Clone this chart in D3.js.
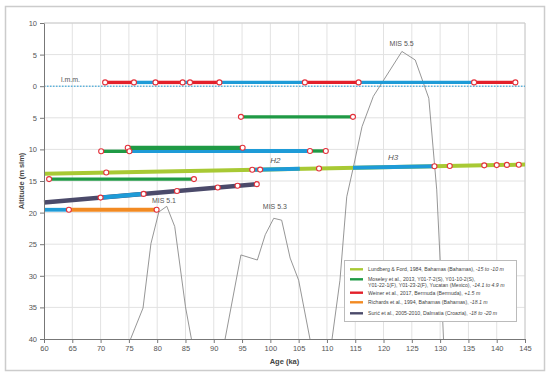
<!DOCTYPE html>
<html>
<head>
<meta charset="utf-8">
<script src="https://cdn.jsdelivr.net/npm/d3@7"></script>
<style>
  body { margin: 0; background: #fff; }
  svg { font-family: "Liberation Sans", Arial, sans-serif; }
  .axis text { fill: #555; font-size: 7.5px; }
  .axis path, .axis line { stroke: #777; }
</style>
</head>
<body>
<div id="chart"></div>
<script>
// ages (ka) and altitudes (m)
var xTicks = d3.range(60, 146, 5);
var yTicks = d3.range(10, -41, -5);

// Weiner et al. (red), flat at ~+0.6
var weinerAlt = 0.6;
var weinerSegs = [[70.8, 75.9], [79.7, 84.5], [85.8, 91.0], [106.1, 115.6], [136.0, 143.3]];
var weinerLinks = [[75.9, 79.7], [84.5, 85.8], [91.0, 106.1], [115.6, 136.0]];
var weinerPts = [70.8, 75.9, 79.7, 84.5, 85.8, 91.0, 106.1, 115.6, 136.0, 143.3];

// Moseley et al. (green): [age0, age1, alt]
var moseleySegs = [[94.8, 114.6, -4.85], [70.1, 75.1, -10.3], [107.0, 109.8, -10.25], [60.9, 86.5, -14.7]];
var moseleyThick = [[74.8, 95.1, -9.75]];
var moseleyLinks = [[75.1, 107.0, -10.25]];
var moseleyPts = [[94.8, -4.85], [114.6, -4.85], [70.1, -10.3], [74.8, -9.75], [75.1, -10.3],
                  [95.1, -9.75], [107.0, -10.25], [109.8, -10.25], [60.9, -14.7], [86.5, -14.7]];

// Lundberg & Ford (yellow-green), sloped line
var lundbergEnds = [[60, -13.85], [145, -12.4]];
var lundbergLinks = [[96.8, 105.2], [114.6, 129.0]];
var lundbergPts = [71.0, 96.8, 98.2, 108.6, 129.0, 131.7, 137.8, 140.0, 141.8, 143.9];

// Suric et al. (slate), sloped line
var suricEnds = [[60, -18.4], [97.6, -15.5]];
var suricLinks = [[70.0, 77.6]];
var suricPts = [70.0, 77.6, 83.5, 90.7, 94.2, 97.6];

// Richards et al. (orange)
var richardsAlt = -19.55;
var richardsSegs = [[64.4, 79.9]];
var richardsLinks = [[60, 64.4]];
var richardsPts = [64.4, 79.9];

// sea level curve (MIS), null = leaves the frame
var misCurve = [
  [75.3, -40], [77.5, -35.1], [78.9, -24.9], [80.3, -19.9], [81.7, -19.0], [83.1, -22.2], [85.0, -34.9], [86.05, -40], null,
  [92.0, -40], [94.8, -26.7], [97.7, -27.5], [99.1, -23.5], [100.6, -20.9], [102.0, -21.2], [103.5, -27.2], [105.0, -30.7], [107.0, -40], null,
  [110.9, -40], [112.3, -30.7], [113.5, -17.5], [114.7, -12.7], [116.2, -6.4], [118.2, -1.6], [123.25, 5.5],
  [125.6, 4.15], [128.0, -1.9], [129.4, -16.4], [130.0, -27.5], [130.6, -40]
];
var misLabels = [["MIS 5.1", 81.2, -18.5], ["MIS 5.3", 100.8, -19.4], ["MIS 5.5", 123.2, 6.3]];
var hLabels = [["H2", 100.9, -12.2], ["H3", 121.7, -11.6]];

var legendItems = [
  {color: "#a8c934", lines: [["Lundberg & Ford, 1984, Bahamas (Bahamas), ", "-15 to -10 m"]]},
  {color: "#1f9a45", lines: [["Moseley et al., 2013, Y01-7-2(S), Y01-10-2(S),", ""],
                             ["Y01-22-1(F), Y01-23-2(F), Yucatan (Mexico), ", "-14.1 to 4.9 m"]]},
  {color: "#e3202a", lines: [["Weiner et al., 2017, Bermuda (Bermuda), ", "+1.5 m"]]},
  {color: "#f28a22", lines: [["Richards et al., 1994, Bahamas (Bahamas), ", "-18.1 m"]]},
  {color: "#4b4a6a", lines: [["Surić et al., 2005-2010, Dalmatia (Croazia), ", "-18 to -20 m"]]}
];

var width = 550, height = 376;
var blue = "#1e9bd7";

var svg = d3.select("#chart").append("svg")
    .attr("width", width)
    .attr("height", height);

// outer frame
svg.append("rect")
    .attr("x", 5.5).attr("y", 6.5)
    .attr("width", 539).attr("height", 364)
    .attr("fill", "none").attr("stroke", "#ccc").attr("stroke-width", 1.5);

var x = d3.scaleLinear().domain([60, 145]).range([44, 525]);
var y = d3.scaleLinear().domain([10, -40]).range([23, 339]);

// grid
svg.append("g").selectAll("line")
    .data(xTicks.slice(1))
    .enter().append("line")
    .attr("x1", d => x(d)).attr("x2", d => x(d))
    .attr("y1", y(10)).attr("y2", y(-40))
    .attr("stroke", "#e2e2e2");
svg.append("g").selectAll("line")
    .data(yTicks.slice(0, -1))
    .enter().append("line")
    .attr("x1", x(60)).attr("x2", x(145))
    .attr("y1", d => y(d)).attr("y2", d => y(d))
    .attr("stroke", "#e2e2e2");

// top / right border of the plot
svg.append("path")
    .attr("d", "M" + x(60) + "," + y(10) + "H" + x(145) + "V" + y(-40))
    .attr("fill", "none").attr("stroke", "#ccc");

// mean sea level, dotted
svg.append("line")
    .attr("x1", x(60)).attr("x2", x(145))
    .attr("y1", y(0)).attr("y2", y(0))
    .attr("stroke", blue).attr("stroke-width", 1)
    .attr("stroke-dasharray", "1.5,1.5");
svg.append("text")
    .attr("x", x(63)).attr("y", y(0) - 4)
    .attr("fill", "#555").attr("font-size", 7)
    .text("l.m.m.");

// clip for the MIS curve
svg.append("clipPath").attr("id", "plotclip")
  .append("rect")
    .attr("x", x(60)).attr("y", y(10))
    .attr("width", x(145) - x(60)).attr("height", y(-40) - y(10));

var curve = d3.line()
    .defined(d => d != null)
    .x(d => x(d[0]))
    .y(d => y(d[1]));

svg.append("path")
    .datum(misCurve)
    .attr("clip-path", "url(#plotclip)")
    .attr("d", curve)
    .attr("fill", "none")
    .attr("stroke", "#8a8a8a")
    .attr("stroke-width", 0.9);

svg.selectAll("text.mis")
    .data(misLabels)
    .enter().append("text")
    .attr("class", "mis")
    .attr("x", d => x(d[1])).attr("y", d => y(d[2]))
    .attr("text-anchor", "middle")
    .attr("fill", "#555").attr("font-size", 7)
    .text(d => d[0]);

// helpers
function alongLine(ends) {
    var f = d3.scaleLinear().domain([ends[0][0], ends[1][0]]).range([ends[0][1], ends[1][1]]);
    return f;
}

function flatSegs(g, segs, alt, color, w) {
    g.selectAll(null)
        .data(segs)
        .enter().append("line")
        .attr("x1", d => x(d[0])).attr("x2", d => x(d[1]))
        .attr("y1", d => y(d.length > 2 ? d[2] : alt))
        .attr("y2", d => y(d.length > 2 ? d[2] : alt))
        .attr("stroke", color).attr("stroke-width", w);
}

function slopeSegs(g, segs, f, color, w) {
    g.selectAll(null)
        .data(segs)
        .enter().append("line")
        .attr("x1", d => x(d[0])).attr("x2", d => x(d[1]))
        .attr("y1", d => y(f(d[0]))).attr("y2", d => y(f(d[1])))
        .attr("stroke", color).attr("stroke-width", w);
}

var lines = svg.append("g");

// Weiner
flatSegs(lines, weinerLinks, weinerAlt, blue, 3.4);
flatSegs(lines, weinerSegs, weinerAlt, "#e3202a", 3.4);

// Moseley
flatSegs(lines, moseleyLinks, null, blue, 3.8);
flatSegs(lines, moseleySegs, null, "#1f9a45", 3.4);
flatSegs(lines, moseleyThick, null, "#1f9a45", 4.2);

// Lundberg
var fl = alongLine(lundbergEnds);
slopeSegs(lines, [[60, 145]], fl, "#a8c934", 4);
slopeSegs(lines, lundbergLinks, fl, blue, 4);

// Suric
var fs = alongLine(suricEnds);
slopeSegs(lines, [[60, 97.6]], fs, "#4b4a6a", 4.4);
slopeSegs(lines, suricLinks, fs, blue, 4.4);

// Richards
flatSegs(lines, richardsLinks, richardsAlt, blue, 3.8);
flatSegs(lines, richardsSegs, richardsAlt, "#f28a22", 3.8);

// data points
var pts = []
    .concat(weinerPts.map(a => [a, weinerAlt]))
    .concat(moseleyPts)
    .concat(lundbergPts.map(a => [a, fl(a)]))
    .concat(suricPts.map(a => [a, fs(a)]))
    .concat(richardsPts.map(a => [a, richardsAlt]));

svg.append("g").selectAll("circle")
    .data(pts)
    .enter().append("circle")
    .attr("cx", d => x(d[0])).attr("cy", d => y(d[1]))
    .attr("r", 2.5)
    .attr("fill", "#fff")
    .attr("stroke", "#e3303a")
    .attr("stroke-width", 1.1);

svg.selectAll("text.hlab")
    .data(hLabels)
    .enter().append("text")
    .attr("class", "hlab")
    .attr("x", d => x(d[1])).attr("y", d => y(d[2]))
    .attr("text-anchor", "middle")
    .attr("fill", "#555").attr("font-size", 8).attr("font-style", "italic")
    .text(d => d[0]);

// axes
svg.append("g")
    .attr("class", "axis")
    .attr("transform", "translate(0," + y(-40) + ")")
    .call(d3.axisBottom(x).tickValues(xTicks).tickSize(4).tickPadding(3).tickSizeOuter(0));

svg.append("g")
    .attr("class", "axis")
    .attr("transform", "translate(" + x(60) + ",0)")
    .call(d3.axisLeft(y).tickValues(yTicks).tickSize(4).tickPadding(3).tickSizeOuter(0)
        .tickFormat(d => Math.abs(d)));

svg.append("text")
    .attr("x", (x(60) + x(145)) / 2).attr("y", 364)
    .attr("text-anchor", "middle")
    .attr("font-size", 7.5).attr("font-weight", "bold").attr("fill", "#444")
    .text("Age (ka)");

svg.append("text")
    .attr("transform", "translate(24," + (y(10) + y(-40)) / 2 + ") rotate(-90)")
    .attr("text-anchor", "middle")
    .attr("font-size", 7.5).attr("font-weight", "bold").attr("fill", "#444")
    .text("Altitude (m slm)");

// legend
var lg = svg.append("g");
lg.append("rect")
    .attr("x", 344.5).attr("y", 260.5)
    .attr("width", 172).attr("height", 61)
    .attr("fill", "#fff").attr("stroke", "#bbb");

var rowY = [269.3, 279.3, 292.7, 302.3, 313.3];
legendItems.forEach(function(item, i) {
    lg.append("line")
        .attr("x1", 350).attr("x2", 363)
        .attr("y1", rowY[i]).attr("y2", rowY[i])
        .attr("stroke", item.color).attr("stroke-width", 2.4);
    item.lines.forEach(function(ln, j) {
        var t = lg.append("text")
            .attr("x", 368).attr("y", rowY[i] + 1.8 + j * 5.6)
            .attr("font-size", 5.2).attr("fill", "#444");
        t.append("tspan").text(ln[0]);
        if (ln[1]) t.append("tspan").attr("font-style", "italic").text(ln[1]);
    });
});
</script>
</body>
</html>
